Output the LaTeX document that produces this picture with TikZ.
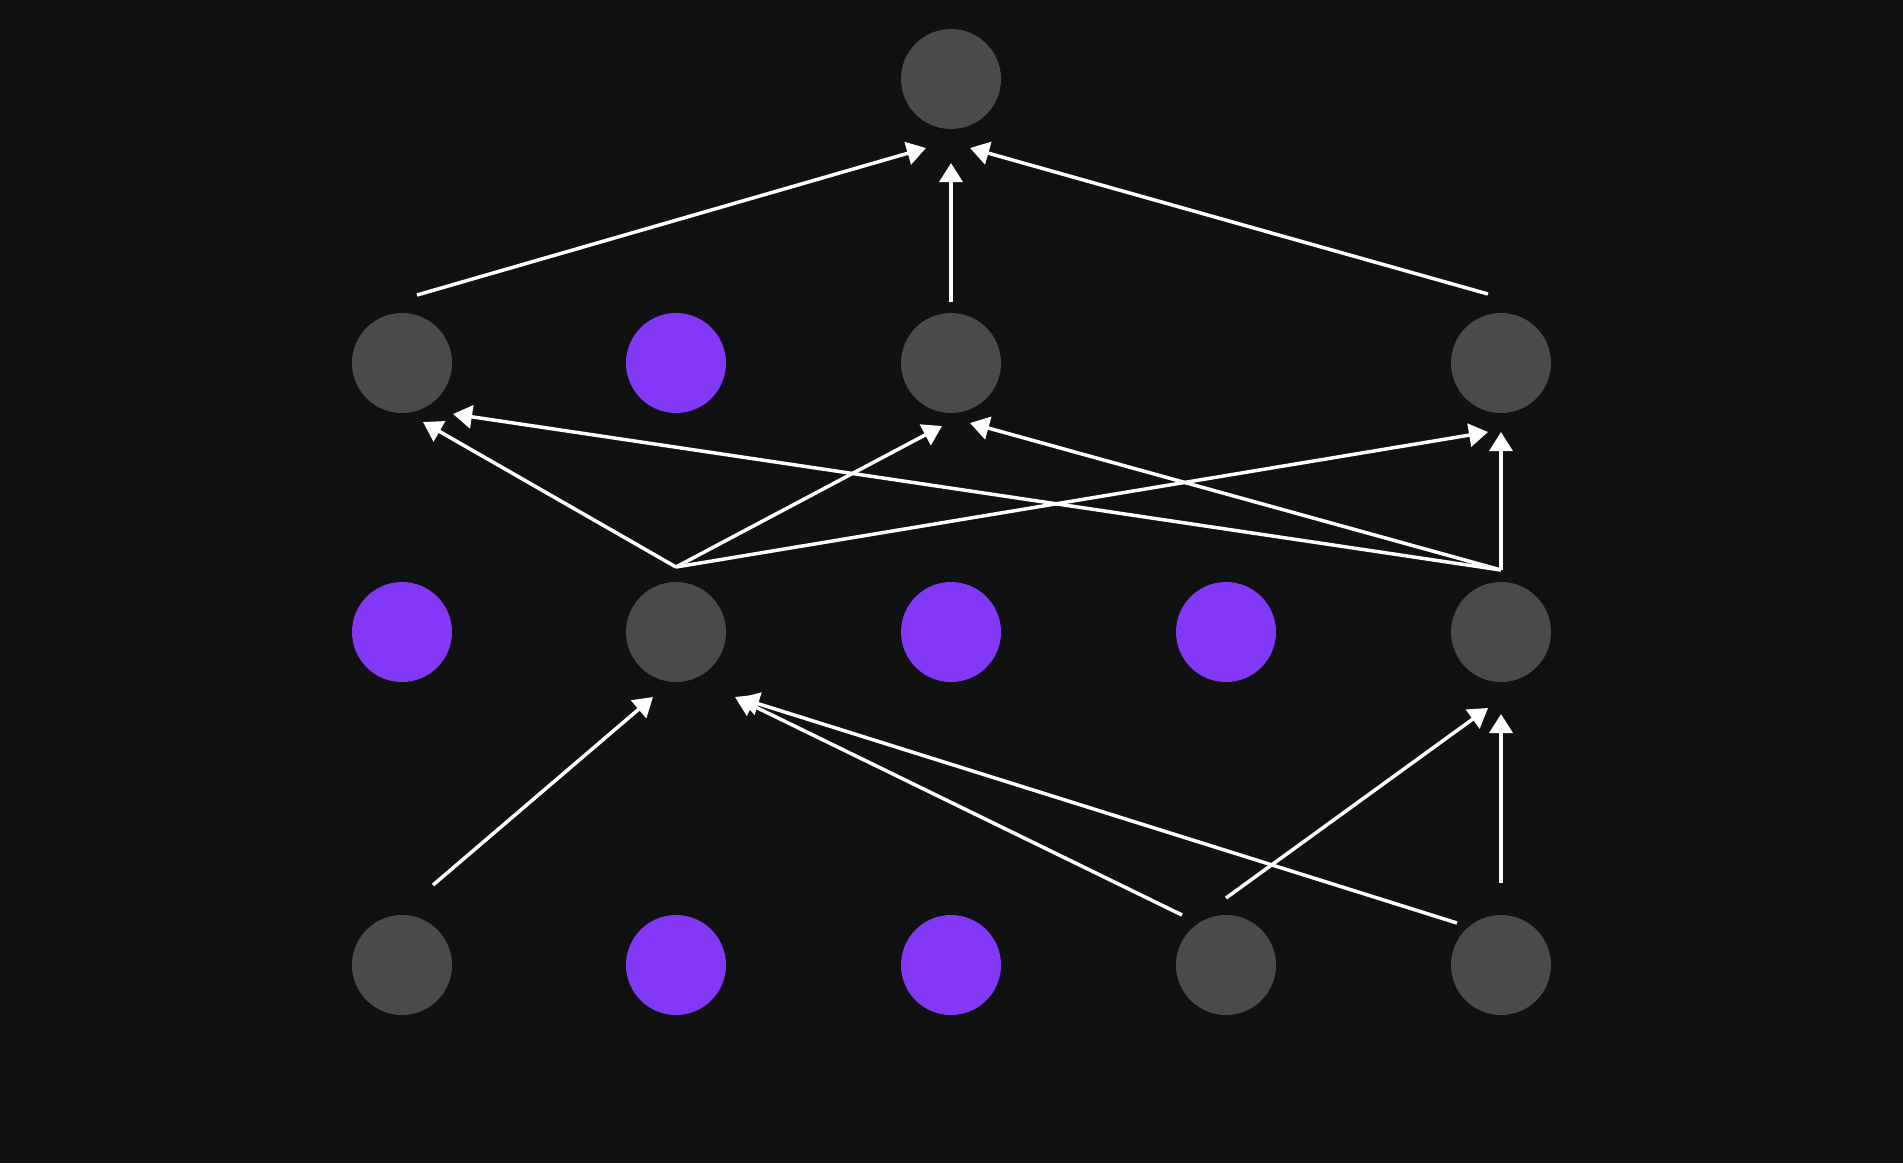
\documentclass[tikz,border=0pt]{standalone}
\usetikzlibrary{calc,arrows.meta}
\definecolor{bg}{HTML}{111111}
\definecolor{gnode}{HTML}{4A4A4A}
\definecolor{pnode}{HTML}{8338F8}
\tikzset{
  gray node/.style={circle,fill=gnode,draw=none,minimum size=100pt,inner sep=0pt},
  purple node/.style={circle,fill=pnode,draw=none,minimum size=100pt,inner sep=0pt},
  link/.style={draw=white,line width=3.5pt,-{Triangle[length=19pt,width=23pt]}}
}
\begin{document}
\begin{tikzpicture}[x=1pt,y=-1pt]
\fill[bg] (0,0) rectangle (1903,1163);
\useasboundingbox (0,0) rectangle (1903,1163);
% row 0
\node[gray node] (r0) at (951,79) {};
% row 1
\node[gray node] (a1) at (402,363) {};
\node[purple node] (b1) at (676,363) {};
\node[gray node] (c1) at (951,363) {};
\node[gray node] (d1) at (1501,363) {};
% row 2
\node[purple node] (a2) at (402,632) {};
\node[gray node] (b2) at (676,632) {};
\node[purple node] (c2) at (951,632) {};
\node[purple node] (d2) at (1226,632) {};
\node[gray node] (e2) at (1501,632) {};
% row 3
\node[gray node] (a3) at (402,965) {};
\node[purple node] (b3) at (676,965) {};
\node[purple node] (c3) at (951,965) {};
\node[gray node] (d3) at (1226,965) {};
\node[gray node] (e3) at (1501,965) {};
% edges row1 -> row0
\draw[link] ($(a1)+(15,-68)$) -- ($(r0)+(-25,69)$);
\draw[link] ($(c1)+(0,-61)$) -- ($(r0)+(0,84)$);
\draw[link] ($(d1)+(-13,-69)$) -- ($(r0)+(19,69)$);
% edges row2 -> row1
\draw[link] ($(b2)+(0,-65)$) -- ($(a1)+(21,59)$);
\draw[link] ($(e2)+(0,-62)$) -- ($(a1)+(51,51)$);
\draw[link] ($(b2)+(0,-65)$) -- ($(c1)+(-9,63)$);
\draw[link] ($(b2)+(0,-65)$) -- ($(d1)+(-13,69)$);
\draw[link] ($(e2)+(0,-62)$) -- ($(c1)+(19,60)$);
\draw[link] ($(e2)+(0,-62)$) -- ($(d1)+(0,69)$);
% edges row3 -> row2
\draw[link] ($(a3)+(31,-80)$) -- ($(b2)+(-23,65)$);
\draw[link] ($(d3)+(-44,-50)$) -- ($(b2)+(59,65)$);
\draw[link] ($(e3)+(-44,-42)$) -- ($(b2)+(64,66)$);
\draw[link] ($(d3)+(0,-67)$) -- ($(e2)+(-13,76)$);
\draw[link] ($(e3)+(0,-82)$) -- ($(e2)+(0,82)$);
\end{tikzpicture}
\end{document}
